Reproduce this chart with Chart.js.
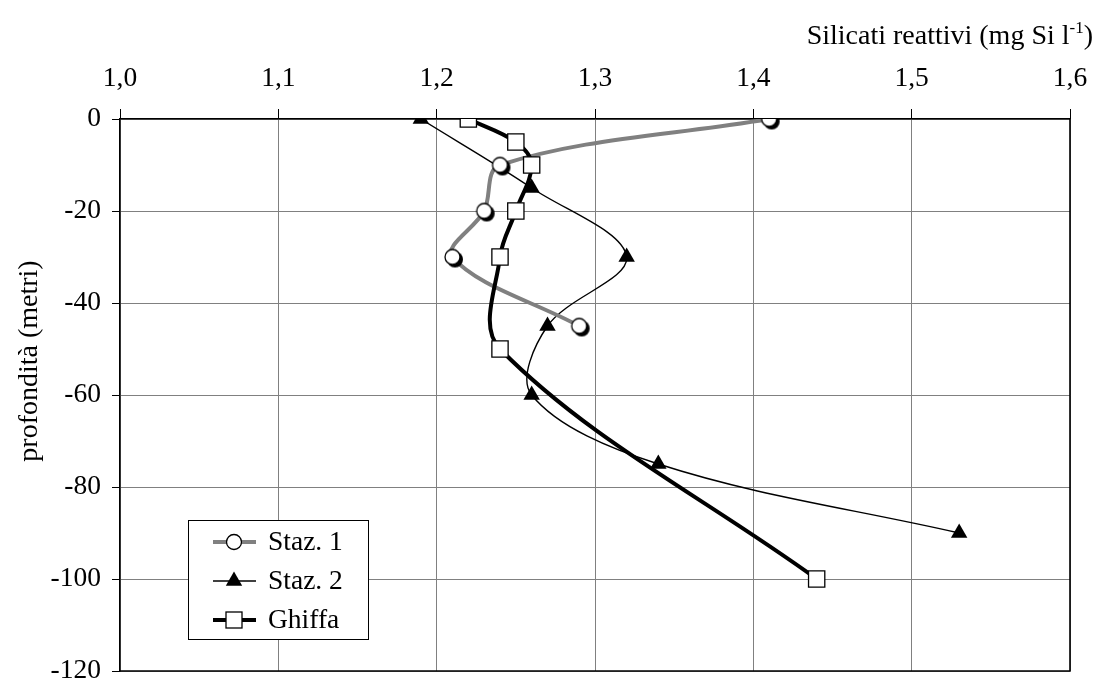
<!DOCTYPE html>
<html>
<head>
<meta charset="utf-8">
<script src="https://cdn.jsdelivr.net/npm/chart.js@4.4.1/dist/chart.umd.min.js"></script>
<style>
  html, body { margin: 0; padding: 0; background: #fff; }
  #wrap { width: 1098px; height: 684px; position: relative; }
</style>
</head>
<body>
<div id="wrap"><canvas id="c" width="1098" height="684"></canvas></div>
<script>
// ---- data ----
const xTicks = [1.0, 1.1, 1.2, 1.3, 1.4, 1.5, 1.6];
const yTicks = [0, -20, -40, -60, -80, -100, -120];

const depthStaz1 = [0, -10, -20, -30, -45];
const silStaz1   = [1.41, 1.24, 1.23, 1.21, 1.29];

const depthStaz2 = [0, -15, -30, -45, -60, -75, -90];
const silStaz2   = [1.19, 1.26, 1.32, 1.27, 1.26, 1.34, 1.53];

const depthGhiffa = [0, -5, -10, -20, -30, -50, -100];
const silGhiffa   = [1.22, 1.25, 1.26, 1.25, 1.24, 1.24, 1.44];

const seriesNames = ['Staz. 1', 'Staz. 2', 'Ghiffa'];
const xTitle = 'Silicati reattivi (mg Si l';
const xTitleSup = '-1';
const yTitle = 'profondità (metri)';

const FONT = "'Liberation Serif', 'Times New Roman', serif";
const FS = 27.5;
const FT = 28;

function pts(xs, ys) { return xs.map((v, i) => ({ x: v, y: ys[i] })); }

// circle marker with dark shadow
function makeShadowCircle(r) {
  const s = 2 * r + 10;
  const cv = document.createElement('canvas');
  cv.width = s; cv.height = s;
  const g = cv.getContext('2d');
  const c = s / 2;
  g.fillStyle = '#000';
  g.beginPath(); g.arc(c + 2.5, c + 2.5, r + 0.5, 0, Math.PI * 2); g.fill();
  g.fillStyle = '#fff'; g.strokeStyle = '#000'; g.lineWidth = 1.3;
  g.beginPath(); g.arc(c, c, r, 0, Math.PI * 2); g.fill(); g.stroke();
  return cv;
}
const circleImg = makeShadowCircle(7.5);

const fmt = v => v.toFixed(1).replace('.', ',');

const customDraw = {
  id: 'customDraw',
  afterDraw(chart) {
    const ctx = chart.ctx;
    const a = chart.chartArea;
    ctx.save();
    // right & bottom frame
    ctx.strokeStyle = '#000';
    ctx.lineWidth = 1.6;
    ctx.beginPath();
    ctx.moveTo(a.right, a.top);
    ctx.lineTo(a.right, a.bottom);
    ctx.lineTo(a.left, a.bottom);
    ctx.stroke();

    // x title with superscript
    ctx.fillStyle = '#000';
    ctx.textBaseline = 'alphabetic';
    ctx.font = FT + 'px ' + FONT;
    const supFont = Math.round(FT * 0.62) + 'px ' + FONT;
    const wMain = ctx.measureText(xTitle).width;
    const wParen = ctx.measureText(')').width;
    ctx.font = supFont;
    const wSup = ctx.measureText(xTitleSup).width;
    const rightEnd = 1093;
    let x0 = rightEnd - wParen - wSup - wMain;
    const base = 44;
    ctx.font = FT + 'px ' + FONT;
    ctx.textAlign = 'left';
    ctx.fillText(xTitle, x0, base);
    ctx.font = supFont;
    ctx.fillText(xTitleSup, x0 + wMain, base - 11);
    ctx.font = FT + 'px ' + FONT;
    ctx.fillText(')', x0 + wMain + wSup, base);

    // y title
    ctx.save();
    ctx.translate(30, 361);
    ctx.rotate(-Math.PI / 2);
    ctx.textAlign = 'center';
    ctx.textBaseline = 'middle';
    ctx.fillText(yTitle, 0, 0);
    ctx.restore();

    // legend
    const lx = 188, ly = 520, lw = 180, lh = 119;
    ctx.fillStyle = '#fff';
    ctx.fillRect(lx, ly, lw, lh);
    ctx.strokeStyle = '#000';
    ctx.lineWidth = 1;
    ctx.strokeRect(lx + 0.5, ly + 0.5, lw, lh);
    const rows = [542, 581, 620];
    const ds = chart.data.datasets;
    for (let i = 0; i < 3; i++) {
      const y = rows[i];
      const d = ds[i];
      ctx.strokeStyle = d.borderColor;
      ctx.lineWidth = d.borderWidth;
      ctx.beginPath();
      ctx.moveTo(213, y); ctx.lineTo(256, y);
      ctx.stroke();
      const cx = 234;
      if (i === 0) {
        ctx.fillStyle = '#fff'; ctx.strokeStyle = '#000'; ctx.lineWidth = 1.3;
        ctx.beginPath(); ctx.arc(cx, y, 7.5, 0, Math.PI * 2); ctx.fill(); ctx.stroke();
      } else if (i === 1) {
        ctx.fillStyle = '#000';
        ctx.beginPath();
        ctx.moveTo(cx, y - 9.5);
        ctx.lineTo(cx + 8.2, y + 4.75);
        ctx.lineTo(cx - 8.2, y + 4.75);
        ctx.closePath(); ctx.fill();
      } else {
        ctx.fillStyle = '#fff'; ctx.strokeStyle = '#000'; ctx.lineWidth = 1.3;
        ctx.fillRect(cx - 8, y - 8, 16, 16);
        ctx.strokeRect(cx - 8, y - 8, 16, 16);
      }
      ctx.fillStyle = '#000';
      ctx.font = FS + 'px ' + FONT;
      ctx.textAlign = 'left';
      ctx.textBaseline = 'middle';
      ctx.fillText(seriesNames[i], 268, y + 1);
    }
    ctx.restore();
  }
};

new Chart(document.getElementById('c'), {
  type: 'line',
  data: {
    datasets: [
      {
        label: seriesNames[0],
        data: pts(silStaz1, depthStaz1),
        borderColor: '#808080',
        borderWidth: 4,
        tension: 0.35,
        pointStyle: circleImg,
        pointRadius: 8,
        order: 2
      },
      {
        label: seriesNames[1],
        data: pts(silStaz2, depthStaz2),
        borderColor: '#000',
        borderWidth: 1.4,
        tension: 0.35,
        pointStyle: 'triangle',
        pointRadius: 9.5,
        pointBackgroundColor: '#000',
        pointBorderColor: '#000',
        pointBorderWidth: 0,
        order: 3
      },
      {
        label: seriesNames[2],
        data: pts(silGhiffa, depthGhiffa),
        borderColor: '#000',
        borderWidth: 4,
        tension: 0.35,
        pointStyle: 'rect',
        pointRadius: 11.5,
        pointBackgroundColor: '#fff',
        pointBorderColor: '#000',
        pointBorderWidth: 1.3,
        order: 1
      }
    ]
  },
  options: {
    responsive: false,
    animation: false,
    layout: { padding: { left: 0, right: 28, top: 0, bottom: 13 } },
    plugins: { legend: { display: false }, tooltip: { enabled: false } },
    elements: { line: { capBezierPoints: false } },
    scales: {
      x: {
        type: 'linear',
        position: 'top',
        min: xTicks[0],
        max: xTicks[xTicks.length - 1],
        afterFit: s => { s.height = 119; s.paddingLeft = 0; s.paddingRight = 0; },
        afterBuildTicks: s => { s.ticks = xTicks.map(v => ({ value: v })); },
        ticks: {
          callback: v => fmt(v),
          font: { family: FONT, size: FS },
          color: '#000',
          padding: 14,
          maxRotation: 0
        },
        grid: { color: '#808080', lineWidth: 1, tickLength: 10, tickColor: '#000', drawTicks: true },
        border: { color: '#000', width: 1.6 }
      },
      y: {
        type: 'linear',
        min: yTicks[yTicks.length - 1],
        max: yTicks[0],
        afterFit: s => { s.width = 120; s.paddingTop = 0; s.paddingBottom = 0; },
        afterBuildTicks: s => { s.ticks = yTicks.slice().reverse().map(v => ({ value: v })); },
        ticks: {
          callback: v => String(v),
          font: { family: FONT, size: FS },
          color: '#000',
          padding: 11
        },
        grid: { color: '#808080', lineWidth: 1, tickLength: 8, tickColor: '#000' },
        border: { color: '#000', width: 1.6 }
      }
    }
  },
  plugins: [customDraw]
});
</script>
</body>
</html>
